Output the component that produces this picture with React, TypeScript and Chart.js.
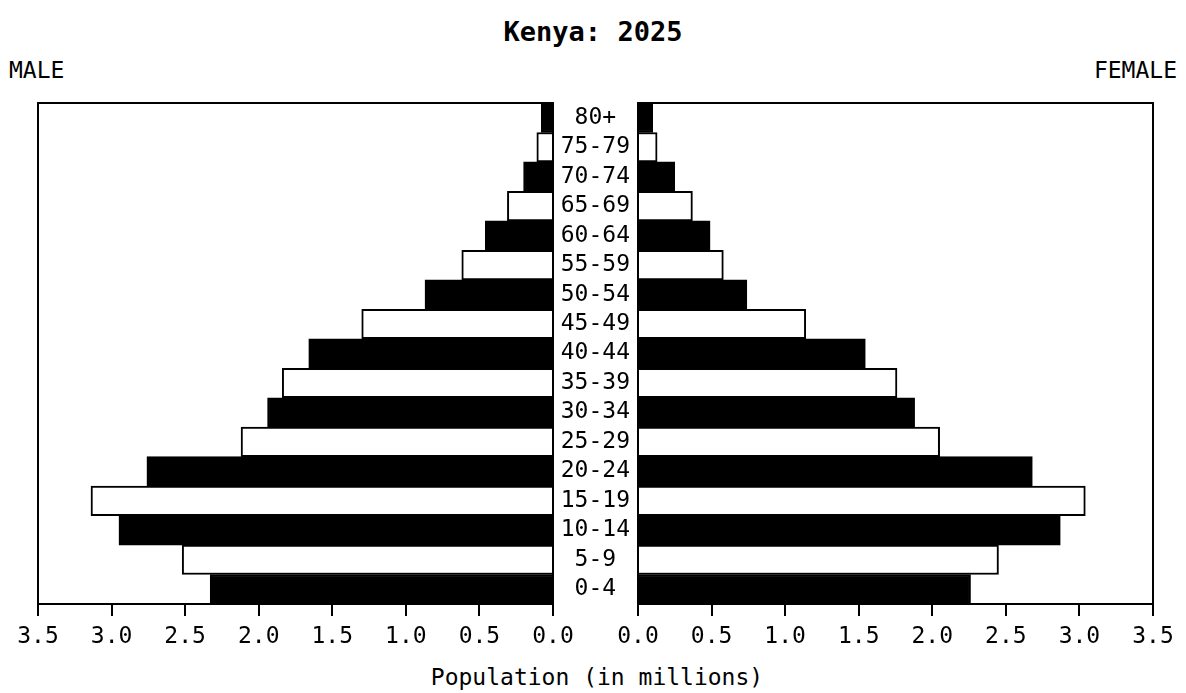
import React, { useEffect, useRef } from "react";
import { Chart, registerables } from "chart.js";

Chart.register(...registerables);

const chartTitle = "Kenya: 2025";
const leftLabel = "MALE";
const rightLabel = "FEMALE";
const axisTitle = "Population (in millions)";

const ageGroups = [
  "80+", "75-79", "70-74", "65-69", "60-64", "55-59", "50-54", "45-49", "40-44",
  "35-39", "30-34", "25-29", "20-24", "15-19", "10-14", "5-9", "0-4",
];
const maleValues = [
  0.08, 0.11, 0.2, 0.31, 0.46, 0.62, 0.87, 1.3, 1.66,
  1.84, 1.94, 2.12, 2.76, 3.14, 2.95, 2.52, 2.33,
];
const femaleValues = [
  0.1, 0.13, 0.25, 0.37, 0.49, 0.58, 0.74, 1.14, 1.545,
  1.76, 1.88, 2.05, 2.68, 3.04, 2.87, 2.45, 2.26,
];
const axisMin = 0;
const axisMax = 3.5;
const axisStep = 0.5;

const FONT = "'DejaVu Sans Mono', 'Liberation Mono', monospace";

const framePlugin = {
  id: "frame",
  afterDatasetsDraw(chart: any) {
    const { ctx, chartArea: a } = chart;
    ctx.save();
    ctx.strokeStyle = "#000";
    ctx.lineWidth = 2;
    ctx.strokeRect(a.left, a.top, a.right - a.left, a.bottom - a.top);
    ctx.restore();
  },
};

function makeConfig(values: number[], isMale: boolean): any {
  const colors = values.map((_, i) => (i % 2 === 0 ? "#000" : "#fff"));
  const yScale: any = {
    type: "category",
    display: !isMale,
    position: "left",
    ticks: {
      color: "#000",
      font: { family: FONT, size: 23 },
      crossAlign: "center",
      padding: 8,
      autoSkip: false,
    },
    grid: { display: false, drawTicks: false },
    border: { display: false },
  };
  if (!isMale) {
    yScale.afterFit = (s: any) => {
      s.width = 85;
    };
  }
  return {
    type: "bar",
    data: {
      labels: ageGroups,
      datasets: [
        {
          data: values,
          backgroundColor: colors,
          borderColor: "#000",
          borderWidth: 2,
          barPercentage: 1,
          categoryPercentage: 1,
        },
      ],
    },
    options: {
      indexAxis: "y",
      responsive: false,
      animation: false,
      devicePixelRatio: 1,
      layout: {
        padding: isMale
          ? { left: 38, right: 47, top: 103, bottom: 0 }
          : { left: 0, right: 33, top: 103, bottom: 0 },
      },
      plugins: {
        legend: { display: false },
        tooltip: { enabled: false },
        title: { display: false },
      },
      scales: {
        x: {
          type: "linear",
          min: axisMin,
          max: axisMax,
          reverse: isMale,
          ticks: {
            stepSize: axisStep,
            color: "#000",
            font: { family: FONT, size: 23 },
            padding: 7,
            maxRotation: 0,
            autoSkip: false,
            callback: (v: any) => Number(v).toFixed(1),
          },
          grid: {
            display: true,
            drawOnChartArea: false,
            drawTicks: true,
            tickLength: 12,
            color: "#000",
            lineWidth: 2,
          },
          border: { display: true, color: "#000", width: 2 },
          afterFit: (s: any) => {
            s.height = 89;
          },
        },
        y: yScale,
      },
    },
    plugins: [framePlugin],
  };
}

export default function App() {
  const maleRef = useRef<HTMLCanvasElement>(null);
  const femaleRef = useRef<HTMLCanvasElement>(null);

  useEffect(() => {
    const m = new Chart(maleRef.current as HTMLCanvasElement, makeConfig(maleValues, true));
    const f = new Chart(femaleRef.current as HTMLCanvasElement, makeConfig(femaleValues, false));
    return () => {
      m.destroy();
      f.destroy();
    };
  }, []);

  const textBase: React.CSSProperties = {
    position: "absolute",
    fontFamily: FONT,
    color: "#000",
    whiteSpace: "nowrap",
  };

  return (
    <div
      style={{
        position: "fixed",
        left: 0,
        top: 0,
        width: 1186,
        height: 693,
        background: "#fff",
        overflow: "hidden",
      }}
    >
      <div
        style={{
          ...textBase,
          left: 0,
          top: 18,
          width: 1186,
          textAlign: "center",
          fontSize: 27,
          fontWeight: "bold",
          lineHeight: "27px",
        }}
      >
        {chartTitle}
      </div>
      <div style={{ ...textBase, left: 9, top: 59, fontSize: 23, lineHeight: "23px" }}>
        {leftLabel}
      </div>
      <div style={{ ...textBase, right: 9, top: 59, fontSize: 23, lineHeight: "23px", textAlign: "right" }}>
        {rightLabel}
      </div>
      <div
        style={{
          ...textBase,
          left: 4,
          top: 666,
          width: 1186,
          textAlign: "center",
          fontSize: 23,
          lineHeight: "23px",
        }}
      >
        {axisTitle}
      </div>
      <canvas
        ref={maleRef}
        width={600}
        height={693}
        style={{ position: "absolute", left: 0, top: 0, width: 600, height: 693 }}
      />
      <canvas
        ref={femaleRef}
        width={633}
        height={693}
        style={{ position: "absolute", left: 553, top: 0, width: 633, height: 693 }}
      />
    </div>
  );
}
